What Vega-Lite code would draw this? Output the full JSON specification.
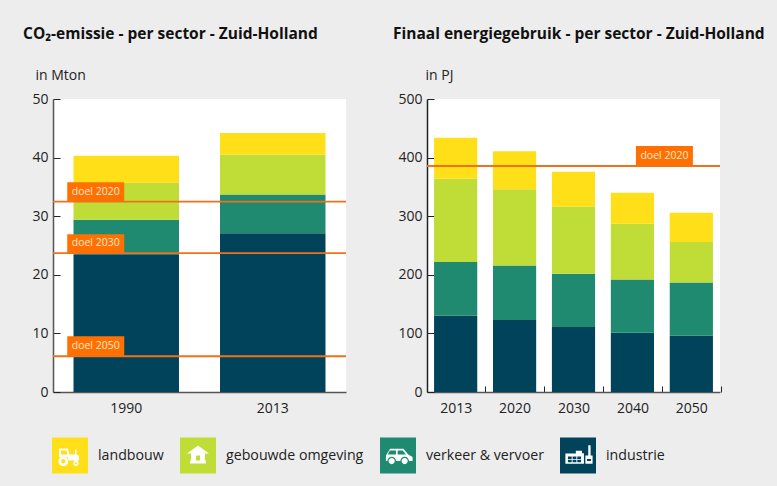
{
"$schema":"https://vega.github.io/schema/vega-lite/v6.json",
"background":"#ededed",
"padding":{"left":23,"top":26,"right":12,"bottom":14},
"config":{"view":{"fill":"white","stroke":null},"font":"Open Sans","axis":{"grid":false,"labelFont":"Open Sans","titleFont":"Open Sans","labelColor":"#222","titleColor":"#222","labelFontSize":14,"titleFontSize":14,"titleFontWeight":"normal"},"title":{"font":"Open Sans","fontSize":15.5,"fontWeight":"bold","color":"#111","anchor":"start","frame":"group"}},
"bounds":"flush",
"spacing":81,
"resolve":{"scale":{"color":"independent","shape":"independent"},"legend":{"color":"independent","shape":"independent"}},
"hconcat":[
{"width":293,"height":293,
"title":{"text":"CO₂-emissie - per sector - Zuid-Holland","dx":-30,"offset":26},
"layer":[
{"data":{"values":[
{"jaar":"1990","sector":"industrie","waarde":23.5,"rang":1},
{"jaar":"1990","sector":"verkeer & vervoer","waarde":5.9,"rang":2},
{"jaar":"1990","sector":"gebouwde omgeving","waarde":6.3,"rang":3},
{"jaar":"1990","sector":"landbouw","waarde":4.6,"rang":4},
{"jaar":"2013","sector":"industrie","waarde":27.1,"rang":1},
{"jaar":"2013","sector":"verkeer & vervoer","waarde":6.6,"rang":2},
{"jaar":"2013","sector":"gebouwde omgeving","waarde":6.8,"rang":3},
{"jaar":"2013","sector":"landbouw","waarde":3.7,"rang":4}]},
"mark":{"type":"bar"},
"encoding":{
"x":{"field":"jaar","type":"nominal","scale":{"paddingInner":0.28,"paddingOuter":0.14},"axis":{"title":null,"labelAngle":0,"ticks":false,"domainColor":"#555","domainWidth":1.5,"labelPadding":9}},
"y":{"field":"waarde","type":"quantitative","stack":"zero","scale":{"domain":[0,50]},"axis":{"title":"in Mton","titleAngle":0,"titleAlign":"left","titleBaseline":"alphabetic","titleX":-18,"titleY":-20,"values":[0,10,20,30,40,50],"tickSize":-7,"tickColor":"#222","labelPadding":12,"domainColor":"#555","domainWidth":1.5}},
"color":{"field":"sector","type":"nominal","scale":{"domain":["landbouw","gebouwde omgeving","verkeer & vervoer","industrie"],"range":["#ffdf17","#bfdc37","#1f8a70","#00435a"]},
"legend":{"title":null,"orient":"none","direction":"horizontal","legendX":-1,"legendY":338.5,"symbolType":"square","symbolSize":1296,"symbolStrokeWidth":0,"symbolOpacity":1,"labelOffset":10,"columnPadding":16,"labelFontSize":14.2,"labelFont":"Open Sans","labelColor":"#222","gridAlign":"none","columns":4,"padding":0}},
"order":{"field":"rang"}}},
{"data":{"values":[
{"pictogram":"landbouw "},{"pictogram":"gebouwde omgeving "},{"pictogram":"verkeer & vervoer "},{"pictogram":"industrie "}]},
"mark":{"type":"point","filled":true,"opacity":0,"color":"white"},
"encoding":{
"x":{"datum":"1990"},
"y":{"datum":0},
"shape":{"field":"pictogram","type":"nominal","scale":{"domain":["landbouw ","gebouwde omgeving ","verkeer & vervoer ","industrie "],"range":[
"M-.61,-.39 L-.11,-.39 L-.03,-.06 L.28,-.06 L.28,-.33 L.36,-.33 L.36,-.06 L.5,0 L.5,.28 L-.1,.28 L-.1,.1 L-.61,.1 Z M-.5,-.28 L-.5,-.06 L-.14,-.06 L-.2,-.28 Z M-.64,.32 A.27,.27 0 1 1 -.1,.32 A.27,.27 0 1 1 -.64,.32 Z M-.49,.32 A.12,.12 0 1 0 -.25,.32 A.12,.12 0 1 0 -.49,.32 Z M.18,.43 A.15,.15 0 1 1 .48,.43 A.15,.15 0 1 1 .18,.43 Z M.27,.43 A.06,.06 0 1 0 .39,.43 A.06,.06 0 1 0 .27,.43 Z",
"M-.61,-.11 L0,-.56 L.61,-.11 L.39,-.11 L.39,.28 L.44,.28 L.44,.44 L-.44,.44 L-.44,.28 L-.39,.28 L-.39,-.11 Z M-.11,0 L-.11,.28 L.11,.28 L.11,0 Z",
"M-.44,-.37 L.3,-.37 L.57,-.06 L.81,.09 L.81,.31 L.61,.31 A.24,.24 0 0 0 .13,.31 L-.11,.31 A.24,.24 0 0 0 -.59,.31 L-.67,.31 L-.67,0 Z M-.46,-.28 L-.57,-.06 L-.11,-.06 L-.11,-.28 Z M-.02,-.28 L-.02,-.06 L.44,-.06 L.26,-.28 Z M-.52,.31 A.17,.17 0 1 1 -.18,.31 A.17,.17 0 1 1 -.52,.31 Z M.2,.31 A.17,.17 0 1 1 .54,.31 A.17,.17 0 1 1 .2,.31 Z",
"M-.7,-.11 L-.12,-.11 L-.12,-.26 L.22,-.26 L.22,-.13 L.33,-.13 L.33,.46 L-.7,.46 Z M-.56,.06 L-.56,.19 L-.35,.19 L-.35,.06 Z M-.3,.06 L-.3,.19 L-.09,.19 L-.09,.06 Z M-.04,.06 L-.04,.19 L.17,.19 L.17,.06 Z M-.56,.24 L-.56,.37 L-.35,.37 L-.35,.24 Z M-.3,.24 L-.3,.37 L-.09,.37 L-.09,.24 Z M-.04,.24 L-.04,.37 L.17,.37 L.17,.24 Z M.57,-.57 L.7,-.57 L.7,0 L.81,0 L.81,.46 L.41,.46 L.41,0 L.57,0 Z M.5,.2 L.5,.3 L.72,.3 L.72,.2 Z"]},
"legend":{"title":null,"orient":"none","direction":"horizontal","legendX":-1,"legendY":338.5,"symbolSize":1296,"symbolStrokeWidth":0,"symbolOpacity":1,"labelOffset":10,"columnPadding":16,"labelFontSize":14.2,"labelFont":"Open Sans","labelOpacity":0,"gridAlign":"none","columns":4,"padding":0}}}},
{"data":{"values":[{"doel":"doel 2020","streef":32.5,"top":35.8,"jaar":"1990"},{"doel":"doel 2030","streef":23.7,"top":26.9,"jaar":"1990"},{"doel":"doel 2050","streef":6.1,"top":9.5,"jaar":"1990"}]},
"layer":[
{"mark":{"type":"bar","color":"#ff7000","size":57,"xOffset":-30.5},"encoding":{"x":{"field":"jaar","type":"nominal"},"y":{"field":"streef","type":"quantitative"},"y2":{"field":"top"}}},
{"mark":{"type":"rule","color":"#f27018","strokeWidth":1.8},"encoding":{"y":{"field":"streef","type":"quantitative"}}},
{"mark":{"type":"text","color":"#ffe8d2","fontSize":10.5,"dx":-30.5,"dy":-10,"font":"Open Sans"},"encoding":{"x":{"field":"jaar","type":"nominal"},"y":{"field":"streef","type":"quantitative"},"text":{"field":"doel"}}}
]}
]},
{"width":293,"height":293,
"title":{"text":"Finaal energiegebruik - per sector - Zuid-Holland","dx":-34,"offset":26},
"layer":[
{"data":{"values":[
{"jaar":"2013","sector":"industrie","waarde":130,"rang":1},{"jaar":"2013","sector":"verkeer & vervoer","waarde":92,"rang":2},{"jaar":"2013","sector":"gebouwde omgeving","waarde":142,"rang":3},{"jaar":"2013","sector":"landbouw","waarde":70,"rang":4},
{"jaar":"2020","sector":"industrie","waarde":123,"rang":1},{"jaar":"2020","sector":"verkeer & vervoer","waarde":93,"rang":2},{"jaar":"2020","sector":"gebouwde omgeving","waarde":130,"rang":3},{"jaar":"2020","sector":"landbouw","waarde":65,"rang":4},
{"jaar":"2030","sector":"industrie","waarde":111,"rang":1},{"jaar":"2030","sector":"verkeer & vervoer","waarde":91,"rang":2},{"jaar":"2030","sector":"gebouwde omgeving","waarde":114,"rang":3},{"jaar":"2030","sector":"landbouw","waarde":60,"rang":4},
{"jaar":"2040","sector":"industrie","waarde":101,"rang":1},{"jaar":"2040","sector":"verkeer & vervoer","waarde":91,"rang":2},{"jaar":"2040","sector":"gebouwde omgeving","waarde":95,"rang":3},{"jaar":"2040","sector":"landbouw","waarde":53,"rang":4},
{"jaar":"2050","sector":"industrie","waarde":96,"rang":1},{"jaar":"2050","sector":"verkeer & vervoer","waarde":91,"rang":2},{"jaar":"2050","sector":"gebouwde omgeving","waarde":69,"rang":3},{"jaar":"2050","sector":"landbouw","waarde":50,"rang":4}]},
"mark":{"type":"bar"},
"encoding":{
"x":{"field":"jaar","type":"nominal","scale":{"paddingInner":0.267,"paddingOuter":0.12},"axis":{"title":null,"labelAngle":0,"tickOffset":29.3,"labelOffset":-29.3,"tickSize":-6,"tickColor":"#222","labelPadding":15,"domainColor":"#555","domainWidth":1.5}},
"y":{"field":"waarde","type":"quantitative","stack":"zero","scale":{"domain":[0,500]},"axis":{"title":"in PJ","titleAngle":0,"titleAlign":"left","titleBaseline":"alphabetic","titleX":-2,"titleY":-20,"values":[0,100,200,300,400,500],"tickSize":-7,"tickColor":"#222","labelPadding":12,"domainColor":"#222","domainWidth":1.5}},
"color":{"field":"sector","type":"nominal","scale":{"domain":["landbouw","gebouwde omgeving","verkeer & vervoer","industrie"],"range":["#ffdf17","#bfdc37","#1f8a70","#00435a"]},"legend":null},
"order":{"field":"rang"}}},
{"data":{"values":[{"doel":"doel 2020","streef":385.7,"top":420,"jaar":"2040"}]},
"layer":[
{"mark":{"type":"bar","color":"#ff7000","size":57,"xOffset":32},"encoding":{"x":{"field":"jaar","type":"nominal"},"y":{"field":"streef","type":"quantitative"},"y2":{"field":"top"}}},
{"mark":{"type":"rule","color":"#f27018","strokeWidth":1.8},"encoding":{"y":{"field":"streef","type":"quantitative"}}},
{"mark":{"type":"text","color":"#ffe8d2","fontSize":10.5,"dx":32,"dy":-10,"font":"Open Sans"},"encoding":{"x":{"field":"jaar","type":"nominal"},"y":{"field":"streef","type":"quantitative"},"text":{"field":"doel"}}}
]}
]}
]
}
